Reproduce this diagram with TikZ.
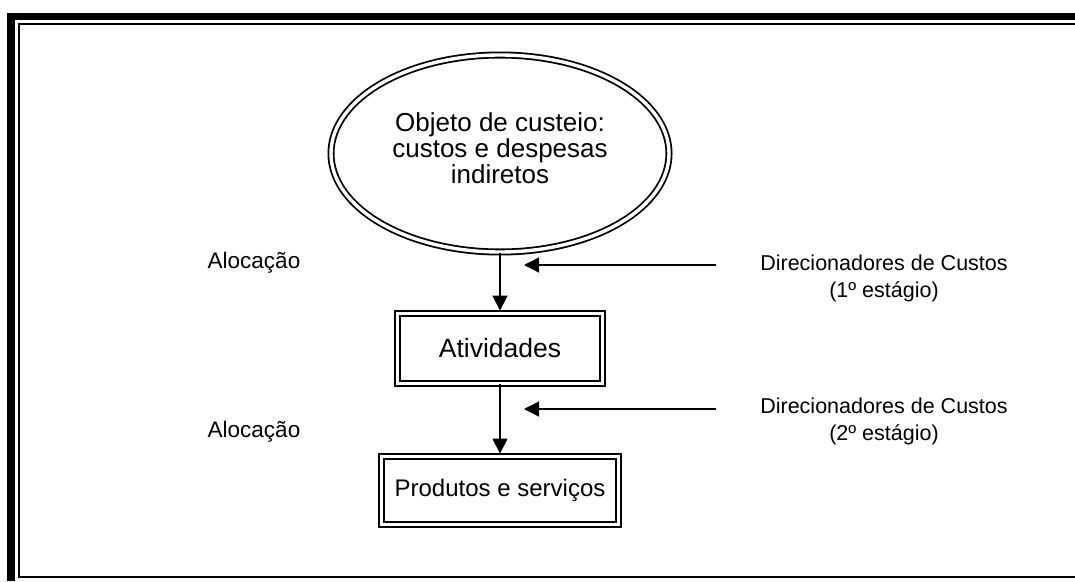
\documentclass[tikz,border=0pt]{standalone}
\usepackage{fontspec}
\setmainfont{Liberation Sans}
\usetikzlibrary{shapes.geometric,arrows.meta}

\tikzset{
  dbl/.style={draw,double,line width=1.8pt,double distance=3.4pt},
  caixa/.style={dbl,rectangle,inner sep=0pt},
  rotulo/.style={align=center,font=\fontsize{21.5}{27}\selectfont},
  seta/.style={-{Triangle[length=15pt,width=15pt]},line width=1.3pt},
}

\begin{document}
\begin{tikzpicture}[x=1pt,y=-1pt]
   \useasboundingbox (0,0) rectangle (1075,581);

   % frame
   \fill (7,13) rectangle (15,581);
   \fill (7,13) rectangle (1075,20);
   \draw[line width=2pt] (1075,24) -- (18.5,24) -- (18.5,577) -- (1075,577);

   \node[dbl,ellipse,inner sep=0pt,minimum width=338pt,minimum height=197pt] (objeto) at (500,153.5) {};
   \node[align=center,font=\fontsize{26}{26}\selectfont] (objtexto) at (500,148)
         {Objeto de custeio:\\custos e despesas\\indiretos};
   \node[caixa,minimum width=205pt,minimum height=70pt,font=\fontsize{26.5}{28}\selectfont] (ativ) at (500,348.5) {Atividades};
   \node[caixa,minimum width=237pt,minimum height=68pt,font=\fontsize{24}{28}\selectfont] (prod) at (500,490.5) {Produtos e servi\c{c}os};

   \node[rotulo,font=\fontsize{22.5}{27}\selectfont] (aloc1) at (254,263) {Aloca\c{c}\~ao};
   \node[rotulo,font=\fontsize{22.5}{27}\selectfont] (aloc2) at (254,432) {Aloca\c{c}\~ao};
   \node[rotulo] (dir1) at (884,278.5) {Direcionadores de Custos\\(1º estágio)};
   \node[rotulo] (dir2) at (884,421.5) {Direcionadores de Custos\\(2º estágio)};

   \coordinate (d1) at (716,265);
   \coordinate (t1) at (524,265);
   \coordinate (d2) at (716,409);
   \coordinate (t2) at (524,409);

   \draw[seta,shorten >=2pt] (objeto) -- (ativ);
   \draw[seta,shorten >=2pt] (ativ) -- (prod);
   \draw[seta] (d1) -- (t1);
   \draw[seta] (d2) -- (t2);
\end{tikzpicture}
\end{document}
